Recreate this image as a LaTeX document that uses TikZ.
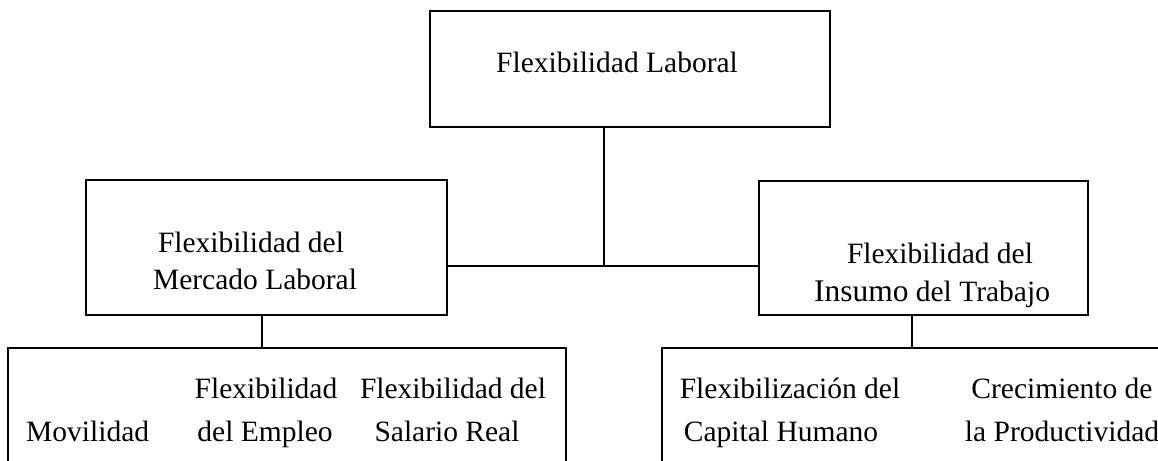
\documentclass[tikz,border=0pt]{standalone}
\usepackage{fontspec}
\setmainfont{Liberation Serif}
\newcommand{\fsz}{\fontsize{29.5}{37}\selectfont}
\newcommand{\fbig}{\fontsize{31.5}{37}\selectfont}
\begin{document}
\begin{tikzpicture}[x=1pt,y=-1pt,
  boxnode/.style={draw, line width=1.6pt, inner sep=0pt, rectangle},
  conn/.style={line width=1.1pt},
  lbl/.style={anchor=base, inner sep=0pt, font=\fsz}]
\useasboundingbox (0,0) rectangle (1158,460);
% boxes
\node[boxnode, minimum width=400pt, minimum height=116pt] (top) at (630,69) {};
\node[boxnode, minimum width=361pt, minimum height=135pt] (ml) at (266.5,247.5) {};
\node[boxnode, minimum width=329pt, minimum height=134pt] (mr) at (923.5,248) {};
\node[boxnode, minimum width=558pt, minimum height=172pt] (bl) at (287,434) {};
\node[boxnode, minimum width=558pt, minimum height=172pt] (br) at (941,434) {};
% connector coordinates
\coordinate (hub) at (604,266);
\coordinate (cl) at (262,0);
\coordinate (cr) at (912,0);
\draw[conn] (hub |- top.south) -- (hub);
\draw[conn] (ml.east |- hub) -- (mr.west |- hub);
\draw[conn] (ml.south -| cl) -- (bl.north -| cl);
\draw[conn] (mr.south -| cr) -- (br.north -| cr);
% texts
\node[lbl] (t0) at (617,72) {Flexibilidad Laboral};
\node[lbl] (t1a) at (251,252) {Flexibilidad del};
\node[lbl] (t1b) at (255,289) {Mercado Laboral};
\node[lbl] (t2a) at (940,263) {Flexibilidad del};
\node[lbl] (t2b) at (932,301) {{\fbig Insumo} del Trabajo};
\node[lbl, anchor=base west] (t3) at (26,441) {Movilidad};
\node[lbl] (t4a) at (266,398) {Flexibilidad};
\node[lbl] (t4b) at (265,441) {del Empleo};
\node[lbl] (t5a) at (453,398) {Flexibilidad del};
\node[lbl] (t5b) at (447,441) {Salario Real};
\node[lbl] (t6a) at (790,398) {Flexibilización del};
\node[lbl] (t6b) at (781,441) {Capital Humano};
\node[lbl] (t7a) at (1062,398) {Crecimiento de};
\node[lbl] (t7b) at (1062,441) {la Productividad};
\end{tikzpicture}
\end{document}
